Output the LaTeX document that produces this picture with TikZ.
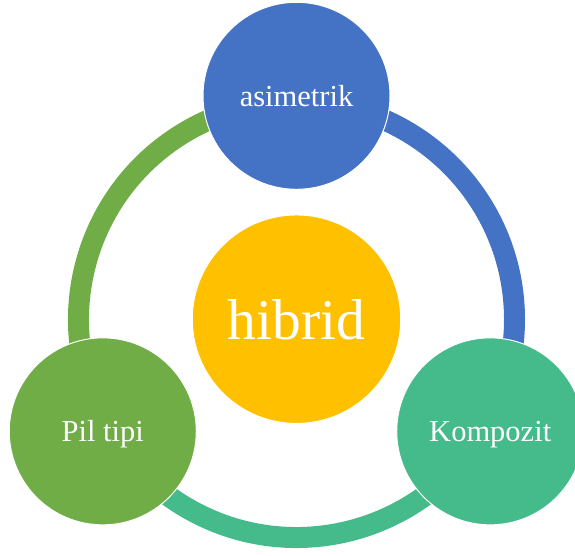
\documentclass[tikz,border=0pt]{standalone}
\usepackage{fontspec}
\setmainfont{Liberation Serif}
\definecolor{cblue}{HTML}{4472C4}
\definecolor{cgreen}{HTML}{70AD47}
\definecolor{cteal}{HTML}{45BB8C}
\definecolor{corange}{HTML}{FFC000}
\begin{document}
\begin{tikzpicture}[x=1pt,y=1pt,
  bubble/.style={circle, draw=white, line width=1pt, inner sep=0pt, minimum size=187pt,
    text=white, text depth=0pt, font=\fontsize{30.5}{36}\selectfont},
  hub/.style={bubble, minimum size=208.5pt, font=\fontsize{57.5}{66}\selectfont},
  ringarc/.style={line width=21pt, line cap=butt}]
\useasboundingbox (0,0) rectangle (575,555);
\coordinate (rc) at (296.5,235.5);
\draw[ringarc, cblue] ([shift={(90:218)}]rc) arc[start angle=90, end angle=-30, radius=218];
\draw[ringarc, cteal] ([shift={(-30:218)}]rc) arc[start angle=-30, end angle=-150, radius=218];
\draw[ringarc, cgreen] ([shift={(210:218)}]rc) arc[start angle=210, end angle=90, radius=218];
\node[hub, fill=corange] (hibrid) at (296.5,235.8) {hibrid};
\node[bubble, fill=cblue] (asim) at ([shift={(90:223.7)}]rc) {asimetrik};
\node[bubble, fill=cteal] (komp) at ([shift={(-30:223.7)}]rc) {Kompozit};
\node[bubble, fill=cgreen] (pil) at ([shift={(210:223.7)}]rc) {Pil tipi};
\end{tikzpicture}
\end{document}
